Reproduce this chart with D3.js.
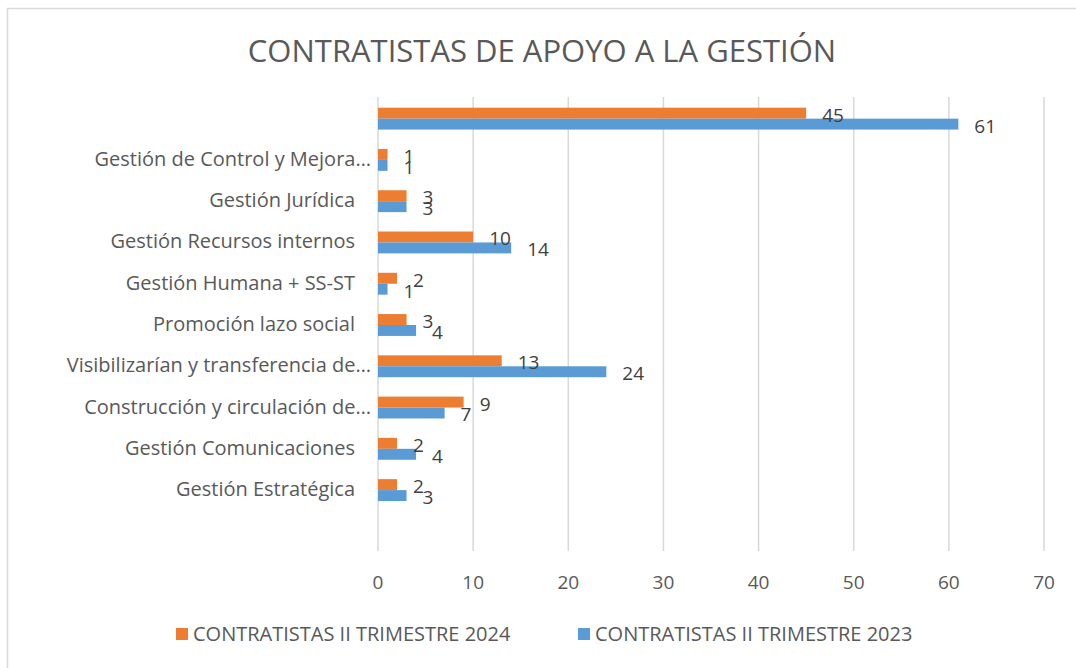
<!DOCTYPE html>
<html>
<head>
<meta charset="utf-8">
<script src="https://cdn.jsdelivr.net/npm/d3@7"></script>
<style>
  body { margin: 0; background: #fff; }
  text { font-family: "Open Sans", "Noto Sans", sans-serif; fill: #595959; }
</style>
</head>
<body>
<div id="chart"></div>
<script>
// categories top to bottom (blank rows kept as in the original)
var categories = ["", "Gestión de Control y Mejora…", "Gestión Jurídica", "Gestión Recursos internos",
    "Gestión Humana + SS-ST", "Promoción lazo social", "Visibilizarían y transferencia de…",
    "Construcción y circulación de…", "Gestión Comunicaciones", "Gestión Estratégica", ""];
var values2024 = [45, 1, 3, 10, 2, 3, 13, 9, 2, 2, null];
var values2023 = [61, 1, 3, 14, 1, 4, 24, 7, 4, 3, null];
var seriesNames = ["CONTRATISTAS II TRIMESTRE 2024", "CONTRATISTAS II TRIMESTRE 2023"];
var seriesColors = ["#ED7D31", "#5B9BD5"];
var xTicks = [0, 10, 20, 30, 40, 50, 60, 70];

var width = 1076, height = 668;
var margin = {top: 97, right: 32, bottom: 117, left: 378};

var svg = d3.select("#chart").append("svg")
    .attr("width", width)
    .attr("height", height);

// chart frame (only top/left edges show in the original)
svg.append("path")
    .attr("d", "M7.5," + height + "V8.5H" + width)
    .attr("fill", "none")
    .attr("stroke", "#D9D9D9")
    .attr("stroke-width", 1.5);

svg.append("text")
    .attr("x", 542)
    .attr("y", 62)
    .attr("text-anchor", "middle")
    .style("font-size", "31px")
    .text("CONTRATISTAS DE APOYO A LA GESTIÓN");

var x = d3.scaleLinear().domain([0, 70]).range([margin.left, width - margin.right]);

var rows = categories.map(function(c, i){
    return {key: i, label: c, vals: [values2024[i], values2023[i]]};
});

var y = d3.scaleBand()
    .domain(rows.map(function(d){ return d.key; }))
    .range([margin.top + 1, height - margin.bottom + 1])
    .paddingInner(0.47)
    .paddingOuter(0.235);

var ySeries = d3.scaleBand().domain([0, 1]).range([0, y.bandwidth()]);

var plotTop = margin.top, plotBottom = height - margin.bottom;

// gridlines
svg.append("g").selectAll("line")
    .data(xTicks)
    .enter().append("line")
    .attr("x1", function(d){ return x(d); })
    .attr("x2", function(d){ return x(d); })
    .attr("y1", plotTop)
    .attr("y2", plotBottom)
    .attr("stroke", "#D9D9D9")
    .attr("stroke-width", 1.5);

// x tick labels
svg.append("g").selectAll("text")
    .data(xTicks)
    .enter().append("text")
    .attr("x", function(d){ return x(d); })
    .attr("y", 589)
    .attr("text-anchor", "middle")
    .style("font-size", "19px")
    .text(function(d){ return d; });

// category labels
svg.append("g").selectAll("text")
    .data(rows)
    .enter().append("text")
    .attr("x", function(d){ return d.label.slice(-1) == "…" ? 371 : 355; })
    .attr("y", function(d){ return y(d.key) + y.bandwidth() / 2 + 6; })
    .attr("text-anchor", "end")
    .style("font-size", "20px")
    .text(function(d){ return d.label; });

// bars
var groups = svg.append("g").selectAll("g")
    .data(rows)
    .enter().append("g")
    .attr("transform", function(d){ return "translate(0," + y(d.key) + ")"; });

groups.selectAll("rect")
    .data(function(d){
        return d.vals.map(function(v, s){ return {v: v, s: s}; }).filter(function(e){ return e.v != null; });
    })
    .enter().append("rect")
    .attr("x", x(0))
    .attr("y", function(d){ return ySeries(d.s); })
    .attr("width", function(d){ return x(d.v) - x(0); })
    .attr("height", ySeries.bandwidth())
    .attr("fill", function(d){ return seriesColors[d.s]; });

groups.selectAll("text")
    .data(function(d){
        return d.vals.map(function(v, s){ return {v: v, s: s}; }).filter(function(e){ return e.v != null; });
    })
    .enter().append("text")
    .attr("x", function(d){ return x(d.v) + 16; })
    .attr("y", function(d){ return ySeries(d.s) + ySeries.bandwidth() + 3; })
    .style("font-size", "19px")
    .style("fill", "#404040")
    .text(function(d){ return d.v; });

// legend
var legendX = [176, 578];
var legend = svg.append("g").selectAll("g")
    .data(seriesNames)
    .enter().append("g")
    .attr("transform", function(d, i){ return "translate(" + legendX[i] + ",628)"; });

legend.append("rect")
    .attr("width", 12)
    .attr("height", 12)
    .attr("fill", function(d, i){ return seriesColors[i]; });

legend.append("text")
    .attr("x", 17)
    .attr("y", 13)
    .style("font-size", "20px")
    .text(function(d){ return d; });
</script>
</body>
</html>
